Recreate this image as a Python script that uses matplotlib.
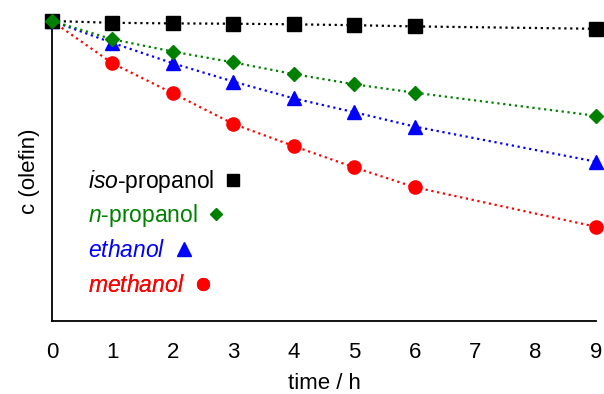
import matplotlib
matplotlib.use("Agg")
import matplotlib.pyplot as plt
from matplotlib.lines import Line2D

plt.rcParams['font.family'] = ['Liberation Sans', 'DejaVu Sans']
plt.rcParams['mathtext.fontset'] = 'custom'
plt.rcParams['mathtext.rm'] = 'Liberation Sans'
plt.rcParams['mathtext.it'] = 'Liberation Sans:italic'

# time points (h)
time = [0, 1, 2, 3, 4, 5, 6, 9]
# relative olefin concentration
iso_propanol = [1.0, 0.994, 0.992, 0.991, 0.989, 0.986, 0.982, 0.974]
n_propanol = [1.0, 0.939, 0.898, 0.862, 0.823, 0.789, 0.761, 0.684]
ethanol = [1.0, 0.927, 0.859, 0.798, 0.742, 0.696, 0.648, 0.531]
methanol = [1.0, 0.859, 0.759, 0.657, 0.583, 0.512, 0.446, 0.314]

labels = [r'$\it{iso}$-propanol', r'$\it{n}$-propanol', r'$\it{ethanol}$', r'$\it{methanol}$']
colors = ['black', '#008000', '#0000ff', '#ff0000']

fig = plt.figure(figsize=(6.04, 3.94), dpi=100)
ax = fig.add_axes([0.0861, 0.1853, 0.9007, 0.7614])

ax.plot(time, methanol, ':', color=colors[3], lw=1.6, marker='o', ms=9.5, clip_on=False, zorder=3)
ax.plot(time, ethanol, ':', color=colors[2], lw=1.6, marker='^', ms=10.5, clip_on=False, zorder=3)
ax.plot(time, iso_propanol, ':', color=colors[0], lw=1.6, marker='s', ms=10, clip_on=False, zorder=3)
ax.plot(time, n_propanol, ':', color=colors[1], lw=1.6, marker='D', ms=7.5, clip_on=False, zorder=3)

ax.set_xlim(0, 9)
ax.set_ylim(0, 1.0)
ax.set_xticks(range(10))
ax.set_yticks([])
ax.tick_params(axis='x', length=0, pad=15, labelsize=16)
for s in ['top', 'right']:
    ax.spines[s].set_visible(False)
for s in ['left', 'bottom']:
    ax.spines[s].set_linewidth(1.3)

ax.set_xlabel('time / h', fontsize=16, labelpad=7)
ax.set_ylabel('c (olefin)', fontsize=16, labelpad=9)

# hand-made legend: one entry per row, text then marker
handles = [
    Line2D([], [], ls='none', marker='s', color=colors[0], ms=8.5),
    Line2D([], [], ls='none', marker='D', color=colors[1], ms=6.5),
    Line2D([], [], ls='none', marker='^', color=colors[2], ms=10),
    Line2D([], [], ls='none', marker='o', color=colors[3], ms=8.5),
]
rows_y = [0.465, 0.35, 0.235, 0.118]
for h, lab, c, y in zip(handles, labels, colors, rows_y):
    leg = ax.legend([h], [lab], loc='center left', bbox_to_anchor=(0.066, y),
                    frameon=False, markerfirst=False, handlelength=0.8,
                    handletextpad=0.4, borderpad=0, borderaxespad=0,
                    fontsize=16.5, labelcolor=[c])
    ax.add_artist(leg)

fig.savefig('out.png', dpi=100)
